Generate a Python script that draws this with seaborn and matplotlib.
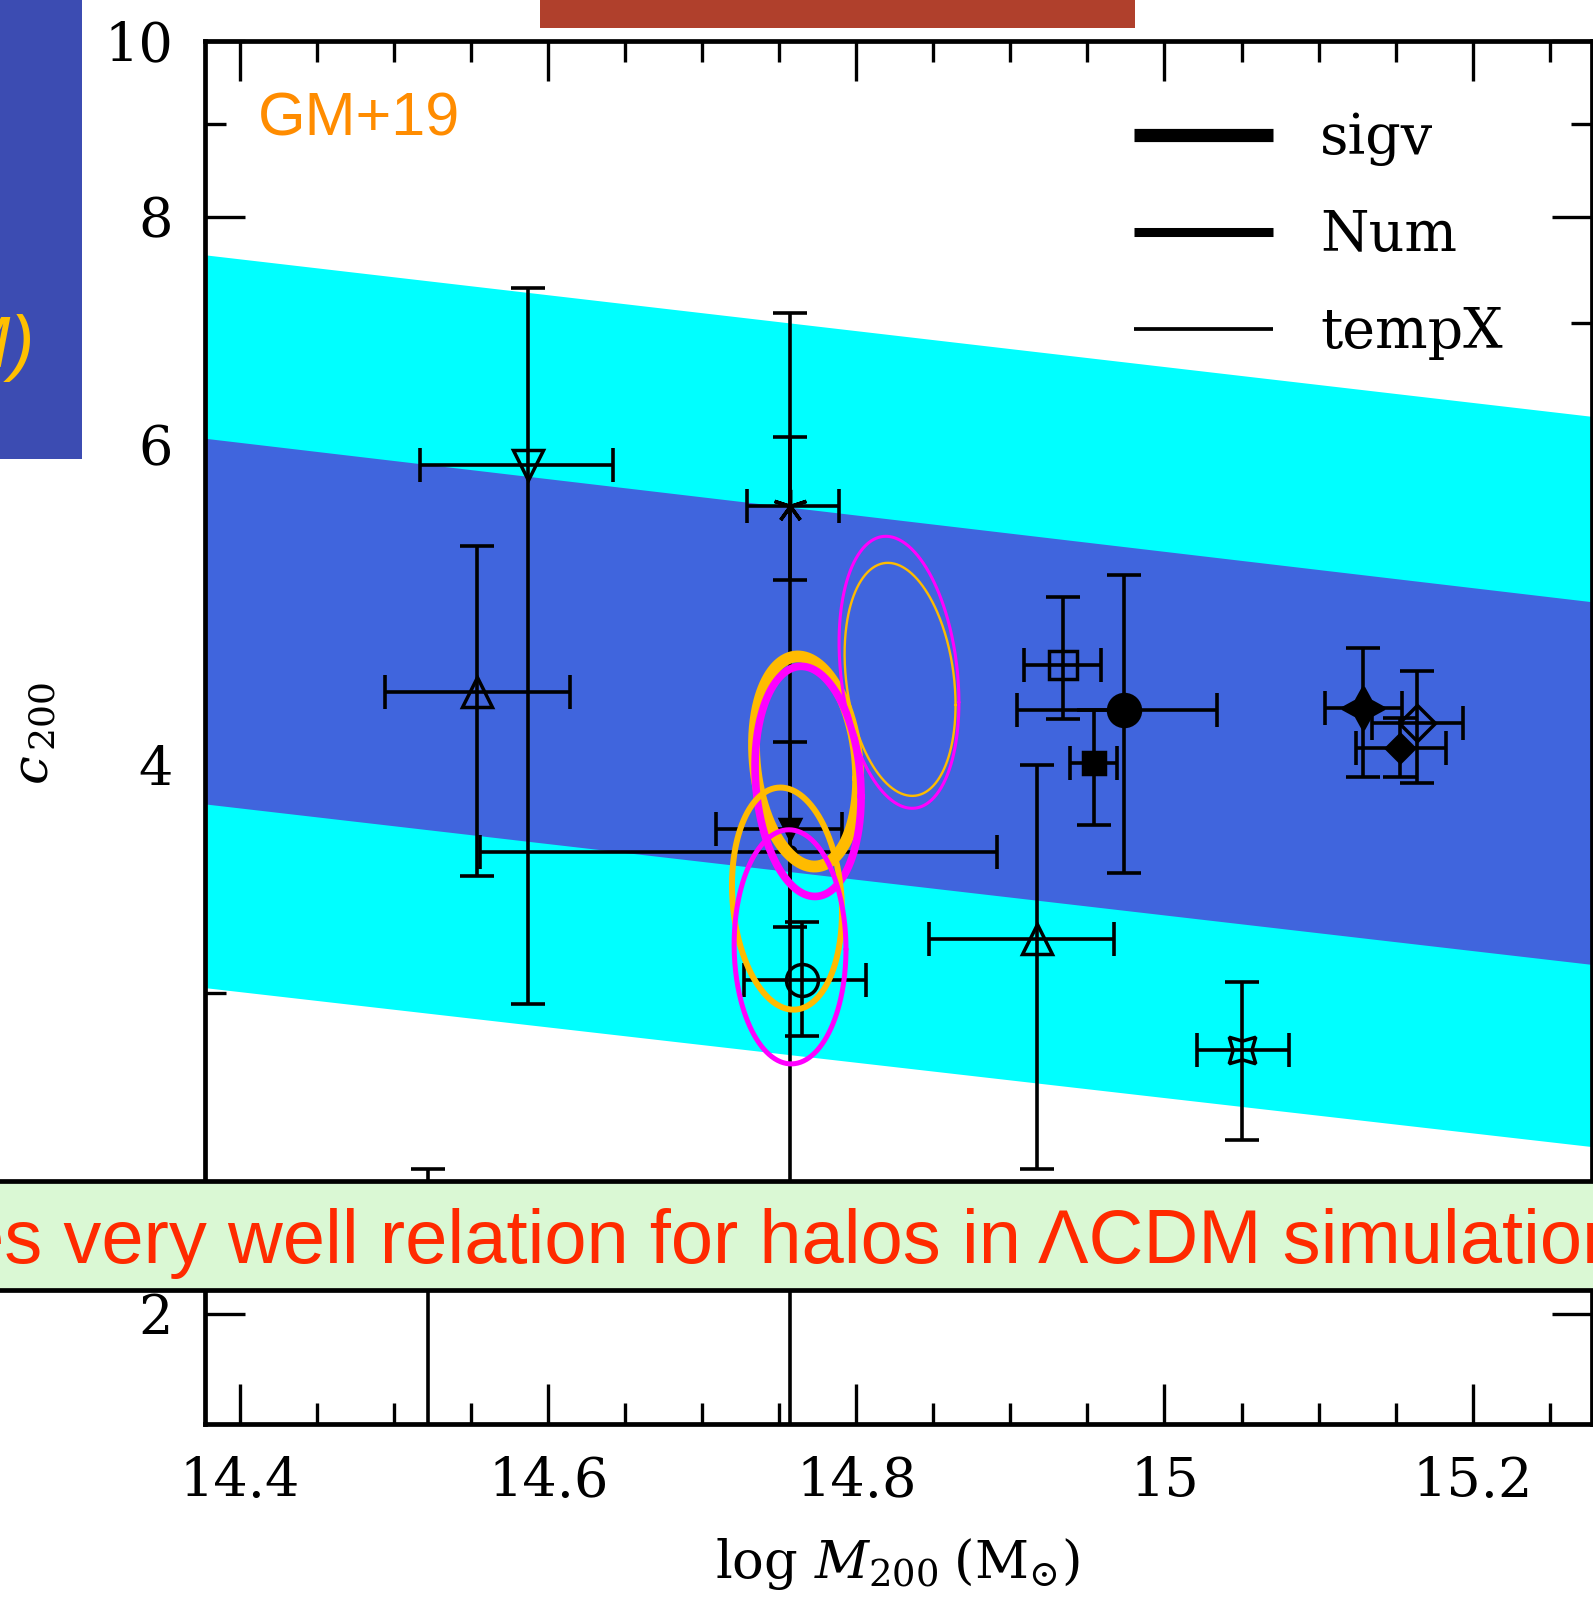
import numpy as np
import matplotlib
matplotlib.use("Agg")
import matplotlib.pyplot as plt
import seaborn as sns
from matplotlib.patches import Rectangle
from matplotlib.lines import Line2D
from matplotlib.ticker import FixedLocator, FixedFormatter, NullFormatter

# ---------------------------------------------------------------- data
# c-M relation band (log M200 at the two ends of the plotted range)
band_logm = [14.3773, 15.2775]
band_1sig_lo = [3.81, 3.11]
band_1sig_hi = [6.05, 4.92]
band_2sig_lo = [3.02, 2.47]
band_2sig_hi = [7.63, 6.22]

# individual clusters: log M200, its error range, c200 and its error range
pt_logm = [14.554, 14.587, 14.757, 14.757, 14.757, 14.765, 14.934, 14.974,
           14.954, 14.917, 15.050, 15.129, 15.164, 15.153, 14.522]
pt_logm_lo = [14.494, 14.517, 14.729, 14.709, 14.556, 14.727, 14.909, 14.904,
              14.939, 14.847, 15.021, 15.104, 15.135, 15.124, 14.500]
pt_logm_hi = [14.614, 14.642, 14.789, 14.791, 14.891, 14.806, 14.959, 15.034,
              14.969, 14.967, 15.081, 15.154, 15.194, 15.183, 14.545]
pt_c = [4.39, 5.85, 5.55, 3.69, 3.585, 3.05, 4.54, 4.29,
        4.01, 3.21, 2.79, 4.30, 4.22, 4.09, 1.55]
pt_c_lo = [3.48, 2.96, 5.06, 3.26, 1.50, 2.84, 4.24, 3.49,
           3.71, 2.40, 2.49, 3.94, 3.91, 3.94, 1.20]
pt_c_hi = [5.28, 7.32, 6.06, 4.12, 7.09, 3.28, 4.95, 5.09,
           4.29, 4.00, 3.04, 4.64, 4.51, 4.25, 2.40]
pt_marker = ["^", "v", (5, 2, 0), "v", "o", "o", "s", "o",
             "s", "^", (4, 1, 45), (4, 1, 0), "D", "D", "o"]
pt_filled = [False, False, False, True, True, False, False, True,
             True, False, False, True, False, True, False]
pt_size = [21, 21, 24, 15, 8, 23, 19.5, 23, 16.5, 21, 27, 30, 18, 14.5, 18]

# GM+19 confidence ellipses in (log M200, log c200)
ell_logm = [14.7674, 14.7687, 14.7550, 14.7570, 14.8277, 14.8284]
ell_c = [4.02, 3.92, 3.38, 3.18, 4.50, 4.46]
ell_sig_logm = [0.0338, 0.0344, 0.0357, 0.0363, 0.0389, 0.0360]
ell_sig_logc = [0.0577, 0.0632, 0.0610, 0.0643, 0.0747, 0.0640]
ell_rho = [-0.16, -0.13, -0.12, -0.02, -0.22, -0.22]
ell_color = ["#FFBB00", "#FF00FF", "#FFBB00", "#FF00FF", "#FF00FF", "#FFBB00"]
ell_lw = [8.5, 5.5, 4.3, 3.6, 2.2, 1.7]

legend_labels = ["sigv", "Num", "tempX"]
legend_widths = [9.5, 6.5, 2.7]

xtick_vals = [14.4, 14.6, 14.8, 15.0, 15.2]
xtick_text = ["14.4", "14.6", "14.8", "15", "15.2"]
xminor_vals = [14.45, 14.5, 14.55, 14.65, 14.7, 14.75, 14.85, 14.9, 14.95,
               15.05, 15.1, 15.15, 15.25]
ytick_vals = [2, 4, 6, 8, 10]
ytick_text = ["2", "4", "6", "8", "10"]
yminor_vals = [3, 5, 7, 9]

# ---------------------------------------------------------------- style
sns.set_theme(style="ticks")
plt.rcParams["font.family"] = ["DejaVu Serif"]
plt.rcParams["mathtext.fontset"] = "dejavuserif"
plt.rcParams["text.color"] = "black"

fig = plt.figure(figsize=(15.93, 15.99), dpi=100)
fig.patch.set_facecolor("white")
ax = fig.add_axes([0.1287, 0.1094, 0.8707, 0.8650])
ax.set_facecolor("white")
ax.set_yscale("log")

# bands
ax.fill_between(band_logm, band_2sig_lo, band_2sig_hi, color="#00FFFF",
                linewidth=0, zorder=1)
ax.fill_between(band_logm, band_1sig_lo, band_1sig_hi, color="#4065DD",
                linewidth=0, zorder=2)

# error bars and markers
for i in range(len(pt_logm)):
    x, y = pt_logm[i], pt_c[i]
    ax.errorbar([x], [y],
                xerr=[[x - pt_logm_lo[i]], [pt_logm_hi[i] - x]],
                yerr=[[y - pt_c_lo[i]], [pt_c_hi[i] - y]],
                fmt="none", ecolor="black", elinewidth=2.6,
                capsize=11.9, capthick=2.6, zorder=3)
    ax.plot([x], [y], linestyle="none", marker=pt_marker[i],
            markersize=pt_size[i], markeredgecolor="black",
            markerfacecolor="black" if pt_filled[i] else "none",
            markeredgewidth=2.5, zorder=4)

# ellipses
t = np.linspace(0, 2 * np.pi, 361)
for i in range(len(ell_logm)):
    my = np.log10(ell_c[i])
    r = ell_rho[i]
    ex = ell_logm[i] + ell_sig_logm[i] * np.cos(t)
    ey = my + ell_sig_logc[i] * (r * np.cos(t) + np.sqrt(1 - r * r) * np.sin(t))
    sns.lineplot(x=ex, y=10 ** ey, sort=False, estimator=None, ax=ax,
                 color=ell_color[i], linewidth=ell_lw[i], zorder=5 + i)

ax.set_xlim(14.3773, 15.2775)
ax.set_ylim(1.739, 10)

ax.xaxis.set_major_locator(FixedLocator(xtick_vals))
ax.xaxis.set_major_formatter(FixedFormatter(xtick_text))
ax.xaxis.set_minor_locator(FixedLocator(xminor_vals))
ax.xaxis.set_minor_formatter(NullFormatter())
ax.yaxis.set_major_locator(FixedLocator(ytick_vals))
ax.yaxis.set_major_formatter(FixedFormatter(ytick_text))
ax.yaxis.set_minor_locator(FixedLocator(yminor_vals))
ax.yaxis.set_minor_formatter(NullFormatter())

ax.tick_params(which="both", direction="in", top=True, right=True,
               color="black", width=2.4, labelsize=39, labelcolor="black")
ax.tick_params(which="major", length=28.8, pad=23)
ax.tick_params(which="minor", length=15)
for lab in ax.get_xticklabels() + ax.get_yticklabels():
    lab.set_family("DejaVu Serif")

for sp in ax.spines.values():
    sp.set_color("black")
    sp.set_linewidth(3.4)
    sp.set_zorder(20)

ax.set_xlabel(r"$\log\,M_{200}\;(\mathrm{M}_{\odot})$", fontsize=38,
              color="black", va="baseline")
ax.xaxis.set_label_coords(0.499, -0.1114)
ax.set_ylabel(r"$c_{\,200}$", fontsize=37, color="black", va="baseline")
ax.yaxis.set_label_coords(-0.1125, 0.499)

# legend: line width encodes the method
handles = [Line2D([], [], color="black", linewidth=w, solid_capstyle="butt")
           for w in legend_widths]
ax.legend(handles, legend_labels, loc="upper left",
          bbox_to_anchor=(0.6698, 0.949), borderaxespad=0, borderpad=0,
          frameon=False, handlelength=2.5, handletextpad=0.85,
          labelspacing=0.76, labelcolor="black",
          prop={"family": "DejaVu Serif", "size": 40})

ax.text(0.0382, 0.9313, "GM+19", transform=ax.transAxes, ha="left",
        va="baseline", fontsize=44, color="#FF8C00",
        family="Liberation Sans", zorder=30)

# slide decorations around the figure
fig.add_artist(Rectangle((0, 0.713), 0.0515, 0.287, transform=fig.transFigure,
                         facecolor="#3C4CB2", edgecolor="none", zorder=40))
fig.text(0.022, 0.7705, "c(M)", ha="right", va="baseline", fontsize=52,
         color="#FFC000", family="Liberation Sans", style="italic", zorder=41)
fig.add_artist(Rectangle((0.339, 0.9825), 0.3735, 0.02, transform=fig.transFigure,
                         facecolor="#B0402C", edgecolor="none", zorder=40))
fig.add_artist(Rectangle((-0.01, 0.1932), 1.02, 0.0682, transform=fig.transFigure,
                         facecolor="#DAF8D4", edgecolor="black", linewidth=3.4,
                         zorder=40))
fig.text(-0.0240, 0.2104, "es very well relation for halos in \u039bCDM simulations",
         ha="left", va="baseline", fontsize=54.6, color="#FF2A00",
         family="Liberation Sans", zorder=41)

fig.savefig("out.png", dpi=100, facecolor="white")
